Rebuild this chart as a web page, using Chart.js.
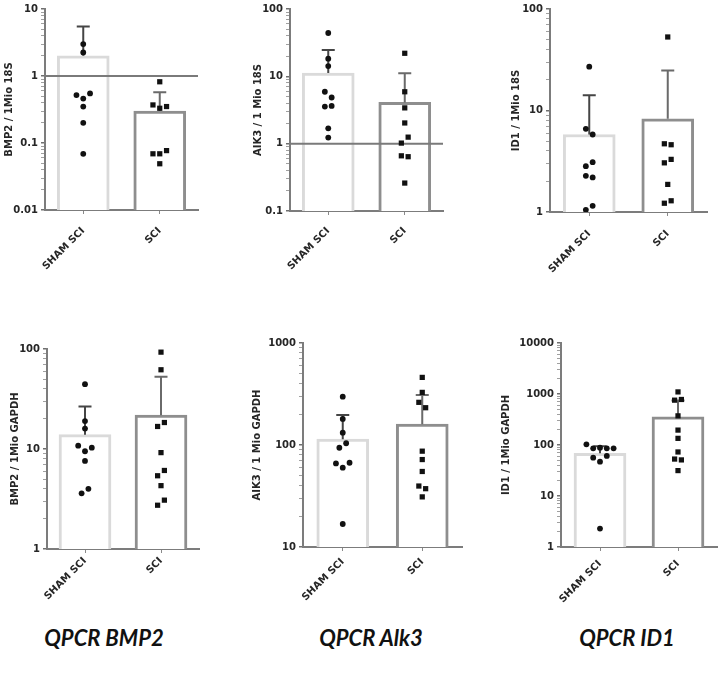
<!DOCTYPE html>
<html>
<head>
<meta charset='utf-8' />
<title>QPCR BMP2 / Alk3 / ID1</title>
<script src="https://cdn.jsdelivr.net/npm/chart.js"></script>
<style>
body { margin:0; padding:0; background:#ffffff; }
#wrap {
  position: relative;
  width: 722px;
  height: 677px;
  overflow: hidden;
  background: #ffffff;
}
#wrap canvas { position: absolute; }
.gene {
  position: absolute;
  width: 200px;
  text-align: center;
  font-family: 'Lato', 'Open Sans', sans-serif;
  font-weight: bold;
  font-style: italic;
  font-size: 22px;
  line-height: 26px;
  color: #111111;
}
</style>
</head>
<body>
<div id="wrap">
  <canvas id="c1"></canvas>
  <canvas id="c2"></canvas>
  <canvas id="c3"></canvas>
  <canvas id="c4"></canvas>
  <canvas id="c5"></canvas>
  <canvas id="c6"></canvas>
  <div class="gene" style="left:4px; top:625px;">QPCR BMP2</div>
  <div class="gene" style="left:271px; top:625px;">QPCR Alk3</div>
  <div class="gene" style="left:527px; top:625px;">QPCR ID1</div>
</div>

<script>

/*************************************************/
/* data                                          */
/*************************************************/

const groups = ['SHAM SCI', 'SCI'];

// BMP2 / 1Mio 18S
const bmp2_18s_sham  = [3.0, 2.25, 0.52, 0.46, 0.55, 0.35, 0.20, 0.069];
const bmp2_18s_sci   = [0.82, 0.37, 0.33, 0.35, 0.069, 0.069, 0.077, 0.049];
const bmp2_18s_mean  = [2.0, 0.30];
const bmp2_18s_sd    = [3.5, 0.27];
const bmp2_18s_ticks = [0.01, 0.1, 1, 10];

// AIK3 / 1 Mio 18S
const alk3_18s_sham  = [44, 18.3, 14.2, 5.9, 4.85, 3.55, 3.63, 1.69, 1.23];
const alk3_18s_sci   = [22, 5.9, 3.4, 2.03, 1.02, 1.25, 0.66, 0.64, 0.26];
const alk3_18s_mean  = [11.2, 4.1];
const alk3_18s_sd    = [13.5, 7.0];
const alk3_18s_ticks = [0.1, 1, 10, 100];

// ID1 / 1Mio 18S
const id1_18s_sham  = [27, 6.6, 5.8, 2.83, 3.1, 2.27, 2.19, 1.05, 1.15];
const id1_18s_sci   = [53, 4.7, 4.6, 3.05, 3.3, 1.87, 1.22, 1.29];
const id1_18s_mean  = [5.8, 8.3];
const id1_18s_sd    = [8.3, 16.5];
const id1_18s_ticks = [1, 10, 100];

// BMP2 / 1Mio GAPDH
const bmp2_gapdh_sham  = [44.5, 19, 16, 10.8, 9.5, 10.3, 7.6, 3.6, 4.0];
const bmp2_gapdh_sci   = [93, 62, 16.8, 18.4, 9.2, 5.4, 6.1, 4.3, 2.74, 3.08];
const bmp2_gapdh_mean  = [13.9, 21.8];
const bmp2_gapdh_sd    = [12.7, 31];
const bmp2_gapdh_ticks = [1, 10, 100];

// AIK3 / 1 Mio GAPDH
const alk3_gapdh_sham  = [298, 180, 132, 94, 104, 66, 60, 67, 16.8];
const alk3_gapdh_sci   = [460, 328, 262, 232, 87, 72, 55, 39.6, 37.3, 31];
const alk3_gapdh_mean  = [114, 160];
const alk3_gapdh_sd    = [83, 149];
const alk3_gapdh_ticks = [10, 100, 1000];

// ID1 / 1Mio GAPDH
const id1_gapdh_sham  = [103, 86, 88.5, 86, 86, 56.5, 47, 61, 2.3];
const id1_gapdh_sci   = [1099, 757, 781, 373, 196, 135, 73, 53, 51, 31.5];
const id1_gapdh_mean  = [69, 357];
const id1_gapdh_sd    = [26, 390];
const id1_gapdh_ticks = [1, 10, 100, 1000, 10000];

/*************************************************/
/* layout of the six panels                      */
/*************************************************/

// box = canvas [left, top, right, bottom], area = plot area [left, top, right, bottom]
// labelPad = gap between x axis ticks and the rotated group names
const panels = [
  { id: 'c1', title: 'BMP2 / 1Mio 18S', sham: bmp2_18s_sham, sci: bmp2_18s_sci,
    mean: bmp2_18s_mean, sd: bmp2_18s_sd, ticks: bmp2_18s_ticks, ref: 1,
    box: [3, 0, 205, 280], area: [45, 8, 198, 210], labelPad: 11 },
  { id: 'c2', title: 'AIK3 / 1 Mio 18S', sham: alk3_18s_sham, sci: alk3_18s_sci,
    mean: alk3_18s_mean, sd: alk3_18s_sd, ticks: alk3_18s_ticks, ref: 1,
    box: [252, 0, 450, 280], area: [290, 8, 443, 211], labelPad: 10 },
  { id: 'c3', title: 'ID1 / 1Mio 18S', sham: id1_18s_sham, sci: id1_18s_sci,
    mean: id1_18s_mean, sd: id1_18s_sd, ticks: id1_18s_ticks, ref: null,
    box: [510, 0, 714, 280], area: [550, 8, 707, 212], labelPad: 12 },
  { id: 'c4', title: 'BMP2 / 1Mio GAPDH', sham: bmp2_gapdh_sham, sci: bmp2_gapdh_sci,
    mean: bmp2_gapdh_mean, sd: bmp2_gapdh_sd, ticks: bmp2_gapdh_ticks, ref: null,
    box: [9, 330, 206, 620], area: [47, 349, 199, 549], labelPad: 2 },
  { id: 'c5', title: 'AIK3 / 1 Mio GAPDH', sham: alk3_gapdh_sham, sci: alk3_gapdh_sci,
    mean: alk3_gapdh_mean, sd: alk3_gapdh_sd, ticks: alk3_gapdh_ticks, ref: null,
    box: [251, 330, 470, 620], area: [303, 343, 462, 547], labelPad: 5 },
  { id: 'c6', title: 'ID1 / 1Mio GAPDH', sham: id1_gapdh_sham, sci: id1_gapdh_sci,
    mean: id1_gapdh_mean, sd: id1_gapdh_sd, ticks: id1_gapdh_ticks, ref: null,
    box: [500, 330, 722, 620], area: [561, 343, 717, 547], labelPad: 7 }
];

const ROW_PX  = 6.5;  // points closer than this (vertically) share a row
const STEP_PX = 6.8;  // horizontal spacing of points in a row

const axisFont  = { family: 'DejaVu Sans', weight: 'bold', size: 10 };
const textColor = '#262626';
const axisColor = '#7c7c7c';

/*************************************************/
/* helpers                                       */
/*************************************************/

// spread points that overlap, like a column scatter plot
const swarm = (values, slot, pxPerDec, stepX) => {
  const order = values.map((v, i) => i).sort((a, b) => values[b] - values[a]);
  const rows = [];
  order.forEach(i => {
    const row = rows[rows.length - 1];
    if (row && (Math.log10(values[row[0]]) - Math.log10(values[i])) * pxPerDec < ROW_PX) {
      row.push(i);
    } else {
      rows.push([i]);
    }
  });
  const pts = [];
  rows.forEach(row => {
    row.sort((a, b) => a - b);
    row.forEach((i, k) => {
      pts[i] = { x: slot + (k - (row.length - 1) / 2) * stepX, y: values[i] };
    });
  });
  return pts;
};

// decade ticks with 2..9 minor ticks between them
const logTicks = (decades) => {
  const out = [];
  decades.forEach((d, i) => {
    out.push({ value: d, major: true });
    if (i < decades.length - 1) {
      for (let m = 2; m <= 9; m++) out.push({ value: m * d, major: false });
    }
  });
  return out;
};

// error bars (mean + SD, upper only) and the reference line
const makeErrorPlugin = (p) => ({
  id: 'errorBars',
  afterDatasetDraw(chart, args) {
    if (args.index !== 0) return;
    const { ctx, chartArea } = chart;
    const xs = chart.scales.x;
    const ys = chart.scales.y;
    ctx.save();
    if (p.ref) {
      const yr = ys.getPixelForValue(p.ref);
      ctx.strokeStyle = '#7a7a7a';
      ctx.lineWidth = 2;
      ctx.beginPath();
      ctx.moveTo(chartArea.left, yr);
      ctx.lineTo(chartArea.right, yr);
      ctx.stroke();
    }
    const colors = ['#454545', '#6a6a6a'];
    p.mean.forEach((m, i) => {
      const x = xs.getPixelForValue(i);
      const y0 = ys.getPixelForValue(m);
      const y1 = ys.getPixelForValue(m + p.sd[i]);
      ctx.strokeStyle = colors[i];
      ctx.lineWidth = 2;
      ctx.beginPath();
      ctx.moveTo(x, y0);
      ctx.lineTo(x, y1);
      ctx.moveTo(x - 6.5, y1);
      ctx.lineTo(x + 6.5, y1);
      ctx.stroke();
    });
    ctx.restore();
  }
});

/*************************************************/
/* charts                                        */
/*************************************************/

panels.forEach(p => {
  const [bl, bt, br, bb] = p.box;
  const [al, at, ar, ab] = p.area;
  const canvas = document.getElementById(p.id);
  canvas.width = br - bl;
  canvas.height = bb - bt;
  canvas.style.left = bl + 'px';
  canvas.style.top = bt + 'px';

  const yMin = p.ticks[0];
  const yMax = p.ticks[p.ticks.length - 1];
  const pxPerDec = (ab - at) / (Math.log10(yMax) - Math.log10(yMin));
  const stepX = STEP_PX / ((ar - al) / 2);
  const yWidth = al - bl;
  const xHeight = bb - ab;

  new Chart(canvas, {
    type: 'bar',
    data: {
      labels: groups,
      datasets: [
        {
          type: 'bar',
          data: p.mean,
          backgroundColor: '#ffffff',
          borderColor: ['#dadada', '#8e8e8e'],
          borderWidth: 3,
          barThickness: 52,
          grouped: false,
          xAxisID: 'x',
          yAxisID: 'y',
          order: 2
        },
        {
          type: 'scatter',
          data: swarm(p.sham, 0, pxPerDec, stepX),
          xAxisID: 'x2',
          yAxisID: 'y',
          pointStyle: 'circle',
          pointRadius: 2.9,
          backgroundColor: '#111111',
          borderWidth: 0,
          order: 0
        },
        {
          type: 'scatter',
          data: swarm(p.sci, 1, pxPerDec, stepX),
          xAxisID: 'x2',
          yAxisID: 'y',
          pointStyle: 'rect',
          pointRadius: 3.7,
          backgroundColor: '#111111',
          borderWidth: 0,
          order: 0
        }
      ]
    },
    options: {
      responsive: false,
      animation: false,
      events: [],
      layout: {
        padding: { top: at - bt, right: br - ar, left: 0, bottom: 0 }
      },
      plugins: {
        legend: { display: false },
        tooltip: { enabled: false }
      },
      scales: {
        x: {
          type: 'category',
          offset: true,
          grid: {
            offset: false,
            drawOnChartArea: false,
            tickLength: 4,
            color: '#8a8a8a',
            lineWidth: 1
          },
          border: { color: axisColor, width: 2 },
          ticks: {
            minRotation: 45,
            maxRotation: 45,
            padding: p.labelPad,
            color: textColor,
            font: axisFont
          },
          afterFit: s => { s.height = xHeight; }
        },
        x2: {
          type: 'linear',
          display: false,
          offset: false,
          grid: { offset: false },
          min: -0.5,
          max: 1.5
        },
        y: {
          type: 'logarithmic',
          min: yMin,
          max: yMax,
          afterBuildTicks: s => { s.ticks = logTicks(p.ticks); },
          ticks: {
            autoSkip: false,
            padding: 3,
            color: textColor,
            font: axisFont,
            callback: v => p.ticks.includes(v) ? String(v) : ''
          },
          grid: {
            drawOnChartArea: false,
            tickLength: 4,
            color: ctx => (ctx.tick && ctx.tick.major) ? '#6f6f6f' : '#a0a0a0',
            lineWidth: ctx => (ctx.tick && ctx.tick.major) ? 1.5 : 1
          },
          border: { color: axisColor, width: 2 },
          title: {
            display: true,
            text: p.title,
            color: textColor,
            font: axisFont,
            padding: { top: 0, bottom: 0 }
          },
          afterFit: s => { s.width = yWidth; }
        }
      }
    },
    plugins: [makeErrorPlugin(p)]
  });
});

</script>
</body>
</html>
